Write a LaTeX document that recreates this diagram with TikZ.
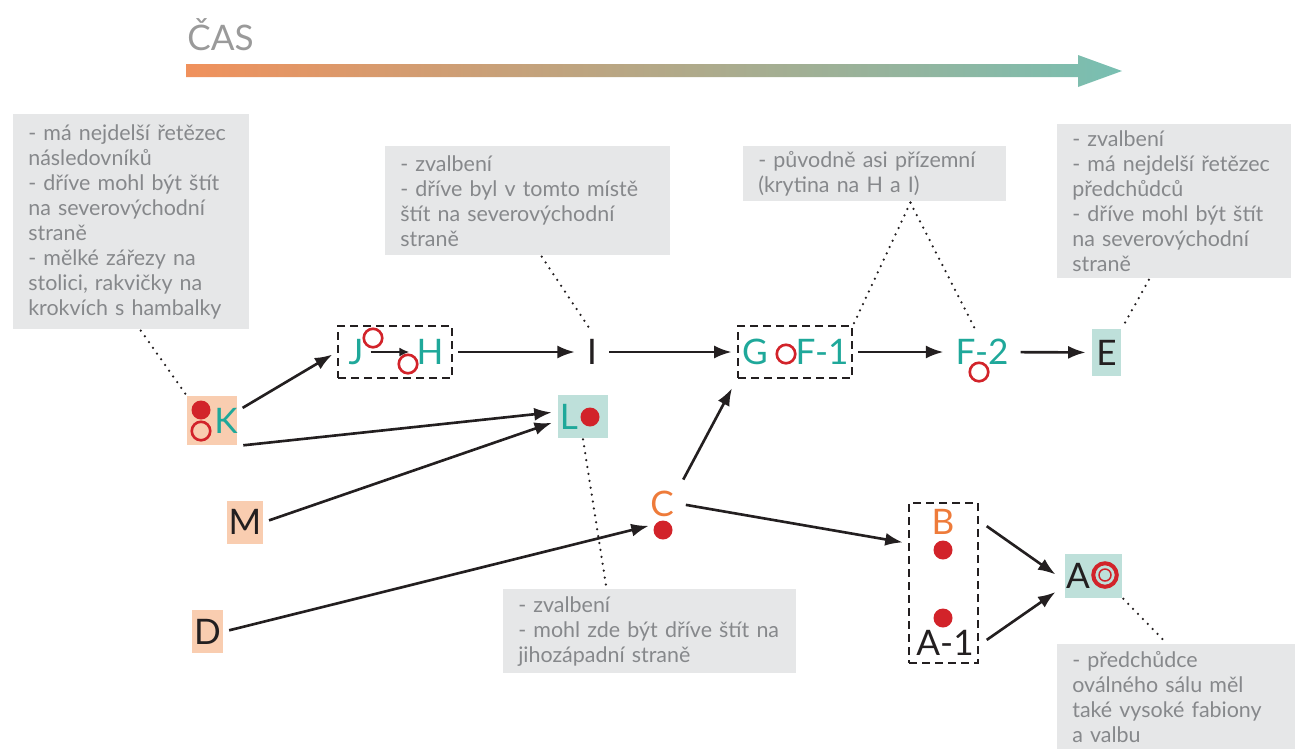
\documentclass[tikz,border=0pt]{standalone}
\usepackage{fontspec}
\setmainfont{Lato}
\usetikzlibrary{arrows.meta}
\definecolor{tyrkys}{HTML}{1FA89A}
\definecolor{oranzova}{HTML}{EE7B3A}
\definecolor{cervena}{HTML}{D2232A}
\definecolor{broskev}{HTML}{F9CDB0}
\definecolor{mata}{HTML}{BEE0DA}
\definecolor{seda}{HTML}{E6E7E8}
\definecolor{sedytext}{HTML}{86888B}
\definecolor{cerna}{HTML}{231F20}
\definecolor{casova}{HTML}{9A9A9A}
\definecolor{osaA}{HTML}{F0915C}
\definecolor{osaB}{HTML}{D9CFBB}
\definecolor{osaC}{HTML}{78BFB2}
\begin{document}
\begin{tikzpicture}[x=0.2mm, y=-0.2mm, line width=1.5pt, >={Latex[length=3.5mm,width=2.6mm]},
    main/.style = {font=\fontsize{20}{24}\selectfont, text=cerna},
    zel/.style = {main, text=tyrkys},
    oranz/.style = {main, text=oranzova},
    rbox/.style = {main, fill=broskev, inner sep=0pt},
    tbox/.style = {main, fill=mata, inner sep=0pt},
    ramec/.style = {draw=cerna, dash pattern=on 1.6mm off 1.0mm, line width=1.5pt, inner sep=0pt},
    pozn/.style = {fill=seda, text=sedytext, font=\fontsize{12.2}{14.2}\selectfont, align=left, inner xsep=3mm, inner ysep=0pt, anchor=north west},
    tecka/.style = {circle, fill=cervena, minimum size=3.8mm, inner sep=0pt},
    kruh/.style = {circle, draw=cervena, line width=1.5pt, minimum size=3.7mm, inner sep=0pt},
    sip/.style = {->, draw=cerna, shorten >=1mm, shorten <=1mm},
    tecky/.style = {draw=cerna, line width=0.5mm, line cap=round, dash pattern=on 0pt off 1.4mm}]
    \useasboundingbox (0,0) rectangle (1295,748);

    \shade[left color=osaA, middle color=osaB, right color=osaC] (186,64) -- (1078,64) -- (1078,55) -- (1122,71) -- (1078,87) -- (1078,77) -- (186,77) -- cycle;
    \node[font=\fontsize{20}{24}\selectfont, text=casova, anchor=south west, inner sep=0pt] (cas) at (186,52) {ČAS};

    \node[rbox, minimum width=10mm, minimum height=9.8mm] (K) at (212,420) {};
    \node[zel] (Kl) at (226,421) {K};
    \node[tecka] (Kd) at (201,410) {};
    \node[kruh] (Kr) at (201,431) {};
    \node[rbox, minimum width=7.2mm, minimum height=8.6mm] (M) at (245,522) {M};
    \node[rbox, minimum width=6.2mm, minimum height=8.6mm] (D) at (207.5,631.5) {D};
    \node[tbox, minimum width=10mm, minimum height=8.6mm] (L) at (583,416.5) {};
    \node[zel] (Ll) at (569,417) {L};
    \node[tecka] (Ld) at (590,417) {};

    \node[zel] (J) at (356,352) {J};
    \node[kruh] (Jr) at (373,338) {};
    \node[zel] (H) at (430,352) {H};
    \node[kruh] (Hr) at (408,364) {};
    \node[ramec, minimum width=22.8mm, minimum height=10.4mm] (JH) at (395,352) {};
    \node[main] (I) at (592,352) {I};
    \node[zel] (G) at (755,352) {G};
    \node[kruh] (Gr) at (786,354) {};
    \node[zel] (F1) at (822,352) {F-1};
    \node[ramec, minimum width=22.8mm, minimum height=10.4mm] (GF) at (795,352) {};
    \node[zel] (F2) at (982,352) {F-2};
    \node[kruh] (F2r) at (979,372) {};
    \node[tbox, minimum width=5.8mm, minimum height=9.4mm] (E) at (1106.5,352.5) {E};

    \node[oranz] (C) at (662,504) {C};
    \node[tecka] (Cd) at (663,530) {};
    \node[oranz] (B) at (943,522) {B};
    \node[tecka] (Bd) at (943,550) {};
    \node[tecka] (A1d) at (943,618) {};
    \node[main] (A1) at (945,643) {A-1};
    \node[ramec, minimum width=13.8mm, minimum height=32mm] (BA) at (943.5,583) {};
    \node[tbox, minimum width=11.4mm, minimum height=8.8mm] (A) at (1093.5,575.5) {};
    \node[main] (Al) at (1078,576) {A};
    \node[circle, draw=cervena, line width=0.8mm, minimum size=4.7mm, inner sep=0pt] (Ar) at (1105,575) {};
    \node[circle, draw=cervena, line width=0.3mm, minimum size=2.4mm, inner sep=0pt] (Ar2) at (1105,575) {};

    \node[pozn, text width=41.2mm, minimum height=43mm] (noteK) at (12,113) {- má nejdelší řetězec\\ následovníků\\ - dříve mohl být štít\\ na severovýchodní\\ straně\\ - mělké zářezy na\\ stolici, rakvičky na\\ krokvích s hambalky};
    \node[pozn, text width=51mm, minimum height=21.8mm] (noteI) at (384,145) {- zvalbení\\ - dříve byl v tomto místě\\ štít na severovýchodní\\ straně};
    \node[pozn, text width=46.6mm, minimum height=11mm] (noteF) at (742,145) {- původně asi přízemní\\ (krytina na H a I)};
    \node[pozn, text width=40.8mm, minimum height=30.8mm] (noteE) at (1056,123) {- zvalbení\\ - má nejdelší řetězec\\ předchůdců\\ - dříve mohl být štít\\ na severovýchodní\\ straně};
    \node[pozn, text width=54.6mm, inner xsep=2mm, minimum height=16.8mm] (noteL) at (502,588) {\hspace*{1mm}- zvalbení\\ \hspace*{1mm}- mohl zde být dříve štít na\\ \hspace*{1mm}jihozápadní straně};
    \node[pozn, text width=41.8mm, minimum height=21mm] (noteA) at (1056,643) {- předchůdce\\ oválného sálu měl\\ také vysoké fabiony\\ a valbu};

    \draw[sip] (K.20) to (JH.west);
    \draw[sip] (K.south east) to (L.170);
    \draw[sip] (M.east) to (L.190);
    \draw[sip] (D.east) to (Cd.150);
    \draw[sip, shorten >=2mm] (C.north east) to (GF.south west);
    \draw[sip] (C.east) to (BA.132);
    \draw[sip] (JH) to (I);
    \draw[sip] (I) to (GF);
    \draw[sip] (GF) to (F2);
    \draw[sip] (F2) to (E);
    \draw[sip, shorten <=1.8mm, shorten >=2mm] (BA.60) to (A.189);
    \draw[sip, shorten <=1.8mm, shorten >=2mm] (BA.-60) to (A.200);
    \draw[->, >={Latex[length=2mm,width=1.8mm]}, line width=1.2pt, draw=cerna] (J) to (H);

    \draw[tecky] (noteK.-85) to (K.north west);
    \draw[tecky] (noteI.-76) to (I.north);
    \draw[tecky] (noteF.-39) to (GF.north east);
    \draw[tecky] (noteF.-39) to (F2.105);
    \draw[tecky] (noteE.-108) to (E.north east);
    \draw[tecky] (L.south) to (noteL.135);
    \draw[tecky] (A.south east) to (noteA.101);
\end{tikzpicture}
\end{document}
